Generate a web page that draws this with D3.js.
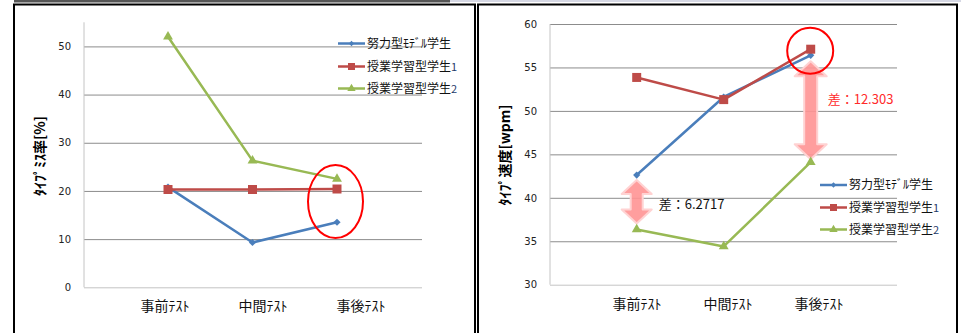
<!DOCTYPE html>
<html>
<head>
<meta charset="utf-8">
<script src="https://cdn.jsdelivr.net/npm/d3@7"></script>
<style>
  body { margin: 0; background: #fff; }
  text { font-family: "Noto Sans CJK JP", sans-serif; }
</style>
</head>
<body>
<div id="my_dataviz"></div>
<script>
// 1. Data
const tests = ["事前ﾃｽﾄ", "中間ﾃｽﾄ", "事後ﾃｽﾄ"];
const seriesNames = ["努力型ﾓﾃﾞﾙ学生", "授業学習型学生", "授業学習型学生"];
const seriesSuffix = ["", "1", "2"];

const missModel = [20.8, 9.3, 13.5];
const missClass1 = [20.3, 20.3, 20.4];
const missClass2 = [52.0, 26.3, 22.5];
const missTicks = [0, 10, 20, 30, 40, 50];

const speedModel = [42.62, 51.6, 56.4];
const speedClass1 = [53.85, 51.3, 57.1];
const speedClass2 = [36.35, 34.4, 44.1];
const speedTicks = [30, 35, 40, 45, 50, 55, 60];

const diffLabels = ["差：6.2717", "差：12.303"];

// 2. Colours (Excel 2007 defaults)
const color = d3.scaleOrdinal()
  .domain([0, 1, 2])
  .range(["#4a7ebb", "#be4b48", "#98b954"]);
const symbols = [d3.symbolSquare, d3.symbolSquare, d3.symbolTriangle];

// 3. SVG
const svg = d3.select("#my_dataviz")
  .append("svg")
  .attr("width", 961)
  .attr("height", 333);

// sheet artefacts along the top edge
svg.append("rect").attr("x", 14).attr("y", 0).attr("width", 436).attr("height", 2.5).attr("fill", "#555");
svg.append("rect").attr("x", 450).attr("y", 0).attr("width", 511).attr("height", 2).attr("fill", "#d6d8e4");

// panel frames
[[14, 475], [478, 957]].forEach(([x0, x1]) => {
  svg.append("path")
    .attr("d", `M${x0},340V4.5H${x1}V340`)
    .attr("fill", "none")
    .attr("stroke", "#000")
    .attr("stroke-width", 2);
});

// 4. One chart panel
function drawPanel(opt) {
  const g = svg.append("g");

  const y = d3.scaleLinear().domain(opt.domain).range([opt.bottom, opt.top]);
  const x = d3.scalePoint().domain(tests).range(opt.pointRange);
  const xLabel = d3.scalePoint().domain(tests).range(opt.labelRange);

  // gridlines + tick labels
  const axis = g.append("g")
    .attr("transform", `translate(${opt.left}, 0)`)
    .call(d3.axisLeft(y).tickValues(opt.ticks).tickSize(-(opt.right - opt.left)).tickPadding(13));
  axis.select(".domain").remove();
  axis.selectAll(".tick line")
    .attr("stroke", (d) => d === opt.domain[0] ? "#c4c4c4" : "#8c8c8c");
  axis.selectAll(".tick text")
    .style("font-family", "'DejaVu Sans', sans-serif")
    .style("font-size", "10px")
    .attr("fill", "#222");

  // y axis line
  g.append("line")
    .attr("x1", opt.left).attr("x2", opt.left)
    .attr("y1", y(opt.domain[1])).attr("y2", y(opt.domain[0]))
    .attr("stroke", "#c4c4c4");

  // category labels
  g.selectAll(".cat")
    .data(tests)
    .enter()
    .append("text")
    .attr("x", (d) => xLabel(d))
    .attr("y", opt.bottom + 24)
    .attr("text-anchor", "middle")
    .style("font-size", "14px")
    .attr("fill", "#111")
    .text((d) => d);

  // y title
  g.append("text")
    .attr("transform", `translate(${opt.titleX}, ${opt.titleY}) rotate(-90)`)
    .attr("text-anchor", "middle")
    .attr("dy", "0.35em")
    .style("font-size", "14px")
    .style("font-weight", "bold")
    .text(opt.title);

  // extra drawings behind the lines
  if (opt.under) opt.under(g, x, y);

  // series lines + markers
  const line = d3.line().x((d, i) => x(tests[i])).y((d) => y(d));
  opt.series.forEach((vals, s) => {
    g.append("path")
      .datum(vals)
      .attr("d", line)
      .attr("fill", "none")
      .attr("stroke", color(s))
      .attr("stroke-width", 2.5)
      .attr("stroke-linejoin", "round");
  });
  [0, 2, 1].forEach((s) => {
    g.selectAll(".mk" + s)
      .data(opt.series[s])
      .enter()
      .append("path")
      .attr("d", d3.symbol(symbols[s], s === 0 ? 26 : s === 1 ? 81 : 42))
      .attr("transform", (d, i) => `translate(${x(tests[i])}, ${y(d)})` + (s === 0 ? " rotate(45)" : ""))
      .attr("fill", color(s));
  });

  // legend
  seriesNames.forEach((name, s) => {
    const ly = opt.legendY[s];
    g.append("line")
      .attr("x1", opt.legendX).attr("x2", opt.legendX + 27)
      .attr("y1", ly).attr("y2", ly)
      .attr("stroke", color(s))
      .attr("stroke-width", 2.5);
    g.append("path")
      .attr("d", d3.symbol(symbols[s], s === 0 ? 14 : s === 1 ? 49 : 30))
      .attr("transform", `translate(${opt.legendX + 13.5}, ${ly})` + (s === 0 ? " rotate(45)" : ""))
      .attr("fill", color(s));
    const t = g.append("text")
      .attr("x", opt.legendX + 29)
      .attr("y", ly)
      .attr("dy", "0.36em")
      .style("font-size", "12px")
      .attr("fill", "#111")
      .text(name);
    t.append("tspan").attr("fill", "#1f3a6a").style("font-size", "11px").text(seriesSuffix[s]);
  });

  if (opt.over) opt.over(g, x, y);
}

// 5. Left: typing error rate
drawPanel({
  domain: [0, 55], ticks: missTicks,
  top: 22.3, bottom: 287.3, left: 84, right: 422,
  pointRange: [168, 337], labelRange: [165, 361],
  title: "ﾀｲﾌﾟﾐｽ率[%]", titleX: 40, titleY: 156,
  series: [missModel, missClass1, missClass2],
  legendX: 338, legendY: [43.5, 66.5, 88.5],
  over: (g, x, y) => {
    g.append("ellipse")
      .attr("cx", x(tests[2]) - 1.5)
      .attr("cy", y((missClass2[2] + missModel[2]) / 2) + 1)
      .attr("rx", 27.5).attr("ry", 36.5)
      .attr("fill", "none")
      .attr("stroke", "#f00")
      .attr("stroke-width", 2);
  }
});

// 6. Right: typing speed, with difference arrows
function doubleArrow(g, cx, y1, y2, headW, shaftW, headL) {
  const h = headW / 2, s = shaftW / 2;
  g.append("path")
    .attr("d", `M${cx},${y1}L${cx + h},${y1 + headL}L${cx + s},${y1 + headL}L${cx + s},${y2 - headL}` +
      `L${cx + h},${y2 - headL}L${cx},${y2}L${cx - h},${y2 - headL}L${cx - s},${y2 - headL}` +
      `L${cx - s},${y1 + headL}L${cx - h},${y1 + headL}Z`)
    .attr("fill", "#ff9494")
    .attr("fill-opacity", 0.9)
    .attr("stroke", "#ffd2d2")
    .attr("stroke-width", 2)
    .attr("stroke-linejoin", "round");
}

drawPanel({
  domain: [30, 60], ticks: speedTicks,
  top: 24, bottom: 284.7, left: 550, right: 897,
  pointRange: [636.7, 810.7], labelRange: [637, 819],
  title: "ﾀｲﾌﾟ速度[wpm]", titleX: 505, titleY: 155,
  series: [speedModel, speedClass1, speedClass2],
  legendX: 820, legendY: [185, 207.5, 229.5],
  under: (g, x, y) => {
    doubleArrow(g, x(tests[0]), y(speedModel[0]) + 5, y(speedClass2[0]) - 6, 30, 12, 14);
    doubleArrow(g, x(tests[2]), y(speedModel[2]) + 6, y(speedClass2[2]) - 3, 32, 13, 15);
  },
  over: (g, x, y) => {
    g.append("text")
      .attr("x", x(tests[0]) + 22)
      .attr("y", y((speedModel[0] + speedClass2[0]) / 2) + 2)
      .attr("dy", "0.36em")
      .style("font-size", "13px")
      .attr("fill", "#111")
      .text(diffLabels[0]);
    g.append("text")
      .attr("x", x(tests[2]) + 17)
      .attr("y", 99)
      .attr("dy", "0.36em")
      .style("font-size", "13px")
      .attr("fill", "#ff2a2a")
      .text(diffLabels[1]);
    g.append("circle")
      .attr("cx", x(tests[2]) - 0.5)
      .attr("cy", y(speedClass1[2]) + 1.5)
      .attr("r", 23)
      .attr("fill", "none")
      .attr("stroke", "#f00")
      .attr("stroke-width", 2);
  }
});
</script>
</body>
</html>
